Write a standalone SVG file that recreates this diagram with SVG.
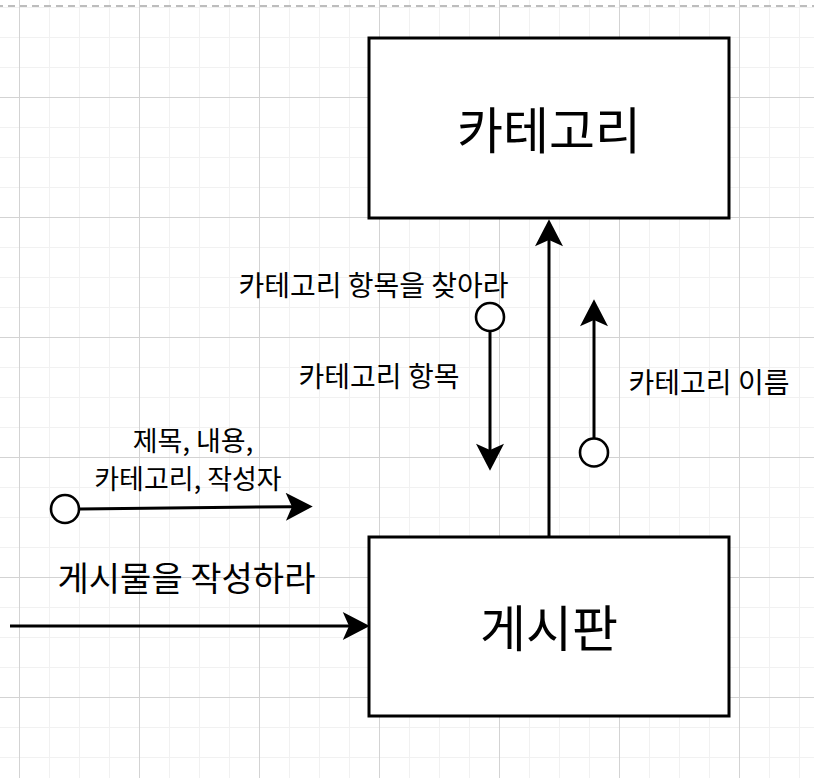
<svg xmlns="http://www.w3.org/2000/svg" width="814" height="778" viewBox="0 0 814 778">
<style>
.minor{stroke:#f1f1f1;stroke-width:1;fill:none}
.major{stroke:#d3d3d3;stroke-width:1;fill:none}
.box{fill:#ffffff;stroke:#000000;stroke-width:3}
.edge{stroke:#000000;stroke-width:3;fill:none}
.port{fill:#ffffff;stroke:#000000;stroke-width:2.6}
text{font-family:"Noto Sans CJK KR","Noto Sans",sans-serif;fill:#000000;text-anchor:middle}
.big{font-size:50px}
.lbl{font-size:28px}
.two{font-size:27px}
</style>
<defs>
<marker id="arrow" markerUnits="userSpaceOnUse" orient="auto" markerWidth="28" markerHeight="28" viewBox="0 0 26 27" refX="6" refY="13.5">
<path d="M26,13.5 L0,0 L6,13.5 L0,27 Z" fill="#000000"/>
</marker>
</defs>
<rect width="814" height="778" fill="#ffffff"/>
<g id="grid">
<path class="minor" d="M49.5,0V778M79.5,0V778M109.5,0V778M169.5,0V778M199.5,0V778M229.5,0V778M289.5,0V778M319.5,0V778M349.5,0V778M409.5,0V778M439.5,0V778M469.5,0V778M529.5,0V778M559.5,0V778M589.5,0V778M649.5,0V778M679.5,0V778M709.5,0V778M769.5,0V778M799.5,0V778M0,7.5H814M0,37.5H814M0,67.5H814M0,127.5H814M0,157.5H814M0,187.5H814M0,247.5H814M0,277.5H814M0,307.5H814M0,367.5H814M0,397.5H814M0,427.5H814M0,487.5H814M0,517.5H814M0,547.5H814M0,607.5H814M0,637.5H814M0,667.5H814M0,727.5H814M0,757.5H814"/>
<path class="major" d="M19.5,0V778M139.5,0V778M259.5,0V778M379.5,0V778M499.5,0V778M619.5,0V778M739.5,0V778M0,97.5H814M0,217.5H814M0,337.5H814M0,457.5H814M0,577.5H814M0,697.5H814"/>
<path d="M0,6H814" stroke="#bdbdbd" stroke-width="2" stroke-dasharray="7 5" stroke-dashoffset="4"/>
</g>
<g id="connectors">
<path class="edge" d="M549,537V240" marker-end="url(#arrow)"/>
<path class="edge" d="M490,331V450" marker-end="url(#arrow)"/>
<path class="edge" d="M594,438V320" marker-end="url(#arrow)"/>
<path class="edge" d="M80,509L292,506.7" marker-end="url(#arrow)"/>
<path class="edge" d="M10,626H349" marker-end="url(#arrow)"/>
<circle class="port" cx="490" cy="317" r="14"/>
<circle class="port" cx="594" cy="452.5" r="14"/>
<circle class="port" cx="65" cy="509" r="14"/>
<text class="lbl" x="373.5" y="296">카테고리 항목을 찾아라</text>
<text class="lbl" x="379" y="387">카테고리 항목</text>
<text class="lbl" x="709" y="392.5">카테고리 이름</text>
<text class="two" x="193" y="451">제목, 내용,</text>
<text class="two" x="188" y="489">카테고리, 작성자</text>
<text x="186.5" y="591" style="font-size:34px">게시물을 작성하라</text>
</g>
<g id="category">
<rect class="box" x="369" y="38" width="360" height="180"/>
<text class="big" x="549" y="149">카테고리</text>
</g>
<g id="board">
<rect class="box" x="369" y="537" width="360" height="179"/>
<text class="big" x="549" y="646.5">게시판</text>
</g>
</svg>
